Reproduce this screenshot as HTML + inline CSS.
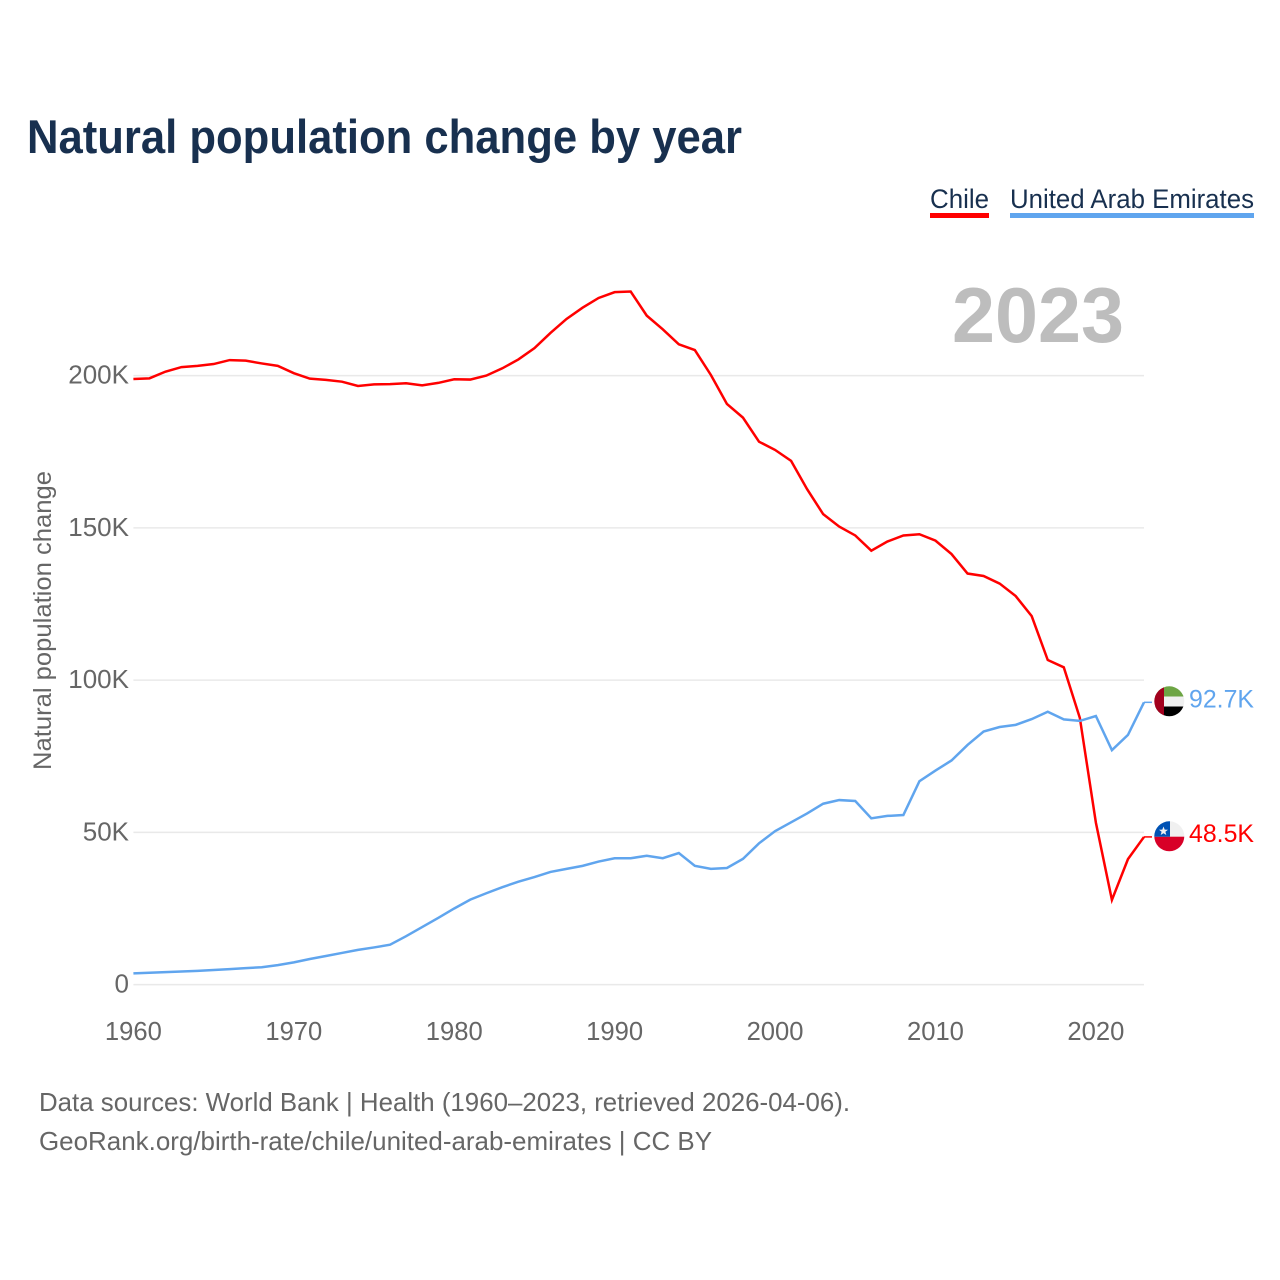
<!DOCTYPE html>
<html lang="en">
<head>
<meta charset="utf-8">
<title>Natural population change by year</title>
<style>
html,body{margin:0;padding:0;background:#fff;}
svg{display:block;font-family:"Liberation Sans",sans-serif;}
</style>
</head>
<body>
<svg id="chart" width="1280" height="1280" viewBox="0 0 1280 1280" xmlns="http://www.w3.org/2000/svg">
  <defs>
    <clipPath id="uae-clip"><circle cx="1169.3" cy="701.3" r="15"/></clipPath>
    <clipPath id="chile-clip"><circle cx="1169.3" cy="836.3" r="15"/></clipPath>
  </defs>
  <rect x="0" y="0" width="1280" height="1280" fill="#ffffff"/>
  <text x="27" y="153" font-size="47" font-weight="700" fill="#18304f" textLength="715" lengthAdjust="spacingAndGlyphs">Natural population change by year</text>

  <g>
    <text x="930" y="208" font-size="27" fill="#18304f" textLength="59" lengthAdjust="spacingAndGlyphs">Chile</text>
    <rect x="930" y="213" width="59" height="5" fill="#ff0000"/>
  </g>
  <g>
    <text x="1010" y="208" font-size="27" fill="#18304f" textLength="244" lengthAdjust="spacingAndGlyphs">United Arab Emirates</text>
    <rect x="1010" y="213" width="244" height="5" fill="#60a5ee"/>
  </g>

  <text x="952" y="342" font-size="78" font-weight="700" fill="#bdbdbd" textLength="172" lengthAdjust="spacingAndGlyphs">2023</text>

  <g id="grid"></g>
  <g id="y-labels"></g>
  <g id="x-labels"></g>
  <text transform="translate(51,770) rotate(-90)" x="0" y="0" font-size="25" fill="#666666" textLength="299" lengthAdjust="spacingAndGlyphs">Natural population change</text>

  <g id="series"></g>

  <g clip-path="url(#uae-clip)">
    <rect x="1154" y="686" width="31" height="10.5" fill="#6da544"/>
    <rect x="1154" y="696.5" width="31" height="10" fill="#f0f0f0"/>
    <rect x="1154" y="706.5" width="31" height="11" fill="#000000"/>
    <rect x="1154" y="686" width="10" height="31" fill="#a2001d"/>
  </g>
  <g clip-path="url(#chile-clip)">
    <rect x="1154" y="821" width="31" height="16" fill="#f0f0f0"/>
    <rect x="1154" y="836.7" width="31" height="16" fill="#d80027"/>
    <rect x="1154" y="821" width="16" height="15.7" fill="#0052b4"/>
    <polygon points="1163.5,826.5 1164.7,829.6 1168,829.8 1165.4,831.8 1166.3,835 1163.5,833.2 1160.7,835 1161.6,831.8 1159,829.8 1162.3,829.6" fill="#f0f0f0"/>
  </g>
  <g id="end-labels"></g>

  <text x="39" y="1111" font-size="26" fill="#666666" textLength="811" lengthAdjust="spacingAndGlyphs">Data sources: World Bank | Health (1960–2023, retrieved 2026-04-06).</text>
  <text x="39" y="1150" font-size="26" fill="#666666" textLength="673" lengthAdjust="spacingAndGlyphs">GeoRank.org/birth-rate/chile/united-arab-emirates | CC BY</text>
</svg>
<script>
const years = [1960,1961,1962,1963,1964,1965,1966,1967,1968,1969,1970,1971,1972,1973,1974,1975,1976,1977,1978,1979,1980,1981,1982,1983,1984,1985,1986,1987,1988,1989,1990,1991,1992,1993,1994,1995,1996,1997,1998,1999,2000,2001,2002,2003,2004,2005,2006,2007,2008,2009,2010,2011,2012,2013,2014,2015,2016,2017,2018,2019,2020,2021,2022,2023];
const chileValues = [198.9,199.1,201.3,202.8,203.2,203.8,205.1,204.9,204,203.2,200.8,199,198.6,198,196.6,197.1,197.2,197.5,196.8,197.6,198.8,198.7,200,202.4,205.3,209,214,218.6,222.3,225.5,227.4,227.6,219.7,215.2,210.3,208.4,200.2,190.7,186.2,178.3,175.6,172,162.7,154.5,150.4,147.5,142.5,145.5,147.5,147.9,145.8,141.4,135,134.2,131.7,127.6,121,106.6,104.2,87.6,53.2,27.8,41.2,48.5];
const uaeValues = [3.7,3.9,4.1,4.3,4.5,4.8,5.1,5.4,5.7,6.4,7.3,8.4,9.4,10.4,11.4,12.2,13.1,15.9,18.9,21.9,25,27.9,30,32,33.8,35.3,37,38,39,40.4,41.5,41.5,42.3,41.5,43.2,39,38,38.3,41.3,46.4,50.4,53.3,56.2,59.4,60.6,60.3,54.6,55.4,55.7,66.8,70.3,73.6,78.7,83.1,84.6,85.3,87.2,89.6,87.1,86.6,88.2,77,82,92.7];
const yTickValues = [0,50,100,150,200];
const yTickLabels = ["0","50K","100K","150K","200K"];
const xTickValues = [1960,1970,1980,1990,2000,2010,2020];
const xTickLabels = ["1960","1970","1980","1990","2000","2010","2020"];
const chileEndLabel = "48.5K";
const uaeEndLabel = "92.7K";

const NS = "http://www.w3.org/2000/svg";
function xScale(year){ return 133.4 + (year - 1960) * (1144 - 133.4) / 63; }
function yScale(v){ return 984.6 - v * 152.25 / 50; }
function make(tag, parent){
  const el = document.createElementNS(NS, tag);
  parent.appendChild(el);
  return el;
}
const gridG = document.getElementById("grid");
const yLabelG = document.getElementById("y-labels");
const xLabelG = document.getElementById("x-labels");
const seriesG = document.getElementById("series");
const endG = document.getElementById("end-labels");

yTickValues.forEach(function(v, i){
  const line = make("line", gridG);
  line.setAttribute("x1", xScale(1960));
  line.setAttribute("x2", xScale(2023));
  line.setAttribute("y1", yScale(v));
  line.setAttribute("y2", yScale(v));
  line.setAttribute("stroke", "#e9e9e9");
  line.setAttribute("stroke-width", "1.5");
  
  
  const t = make("text", yLabelG);
  t.setAttribute("x", 129);
  t.setAttribute("y", yScale(v) + 8);
  t.setAttribute("text-anchor", "end");
  t.setAttribute("font-size", "26");
  t.setAttribute("fill", "#666666");
  t.textContent = yTickLabels[i];
  
  
});

xTickValues.forEach(function(yr, i){
  const t = make("text", xLabelG);
  t.setAttribute("x", xScale(yr));
  t.setAttribute("y", 1040);
  t.setAttribute("text-anchor", "middle");
  t.setAttribute("font-size", "25.6");
  t.setAttribute("fill", "#666666");
  t.textContent = xTickLabels[i];
  
  
});

function linePoints(values){
  return values.map(function(v, i){
    return xScale(years[i]).toFixed(2) + "," + yScale(v).toFixed(2);
  }).join(" ");
}

const chileLine = make("polyline", seriesG);
chileLine.setAttribute("points", linePoints(chileValues));
chileLine.setAttribute("fill", "none");
chileLine.setAttribute("stroke", "#ff0000");
chileLine.setAttribute("stroke-width", "2.5");
chileLine.setAttribute("stroke-linejoin", "miter");



const uaeLine = make("polyline", seriesG);
uaeLine.setAttribute("points", linePoints(uaeValues));
uaeLine.setAttribute("fill", "none");
uaeLine.setAttribute("stroke", "#60a5ee");
uaeLine.setAttribute("stroke-width", "2.5");
uaeLine.setAttribute("stroke-linejoin", "miter");



const lastChile = chileValues[chileValues.length - 1];
const lastUae = uaeValues[uaeValues.length - 1];
const lastX = xScale(years[years.length - 1]);

const chileLeader = make("line", seriesG);
chileLeader.setAttribute("x1", lastX);
chileLeader.setAttribute("x2", lastX + 8);
chileLeader.setAttribute("y1", yScale(lastChile));
chileLeader.setAttribute("y2", yScale(lastChile));
chileLeader.setAttribute("stroke", "#ff0000");
chileLeader.setAttribute("stroke-width", "1.5");



const uaeLeader = make("line", seriesG);
uaeLeader.setAttribute("x1", lastX);
uaeLeader.setAttribute("x2", lastX + 8);
uaeLeader.setAttribute("y1", yScale(lastUae));
uaeLeader.setAttribute("y2", yScale(lastUae));
uaeLeader.setAttribute("stroke", "#60a5ee");
uaeLeader.setAttribute("stroke-width", "1.5");



const chileText = make("text", endG);
chileText.setAttribute("x", 1189);
chileText.setAttribute("y", yScale(lastChile) + 5);
chileText.setAttribute("font-size", "25");
chileText.setAttribute("fill", "#ff0000");
chileText.setAttribute("textLength", "65");
chileText.setAttribute("lengthAdjust", "spacingAndGlyphs");
chileText.textContent = chileEndLabel;



const uaeText = make("text", endG);
uaeText.setAttribute("x", 1189);
uaeText.setAttribute("y", yScale(lastUae) + 5);
uaeText.setAttribute("font-size", "25");
uaeText.setAttribute("fill", "#60a5ee");
uaeText.setAttribute("textLength", "65");
uaeText.setAttribute("lengthAdjust", "spacingAndGlyphs");
uaeText.textContent = uaeEndLabel;


</script>
</body>
</html>
